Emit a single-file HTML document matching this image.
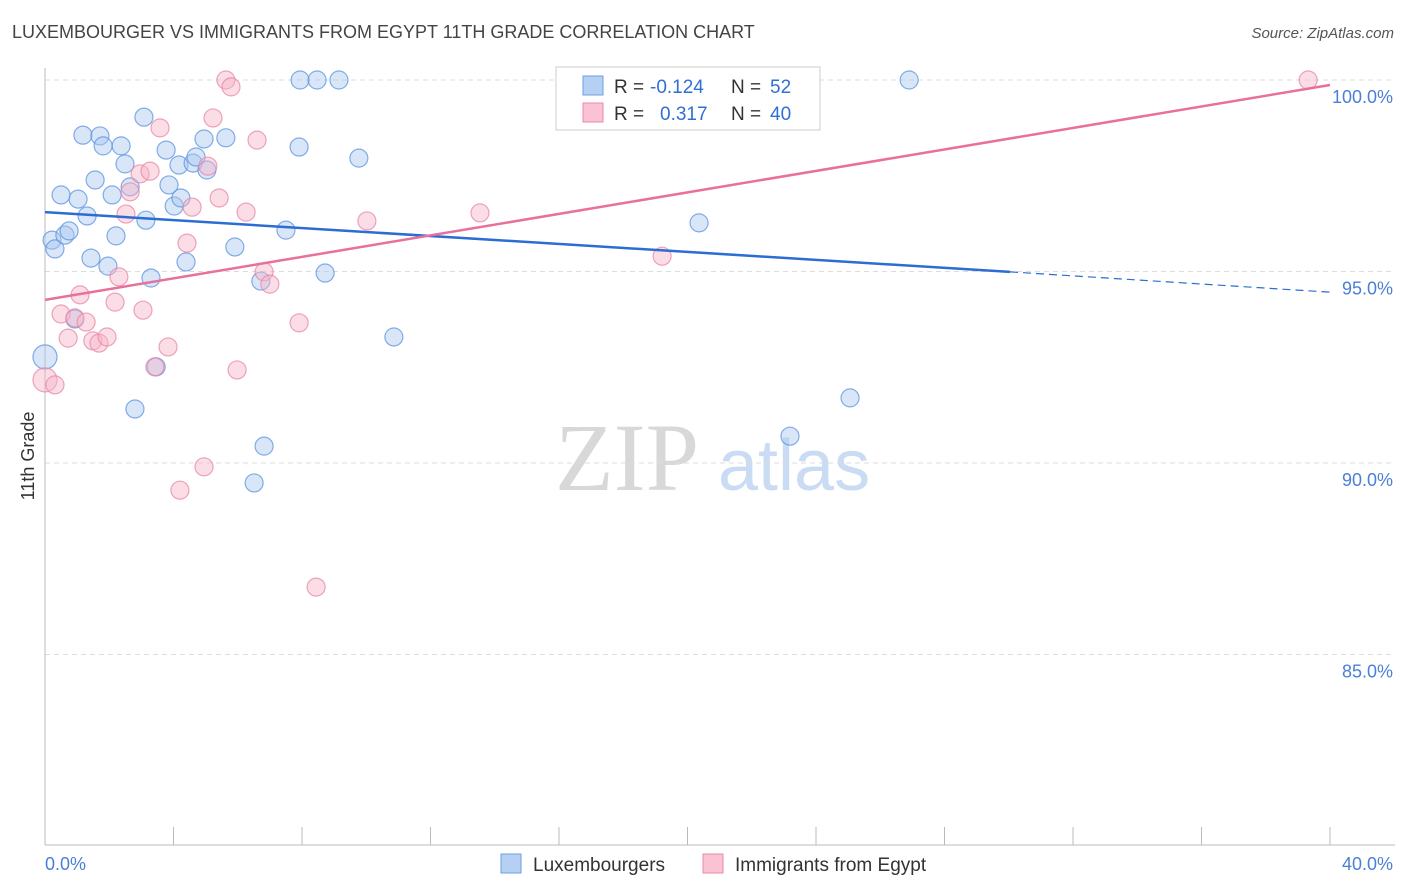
<!DOCTYPE html>
<html><head><meta charset="utf-8">
<style>
body{margin:0;background:#fff;font-family:"Liberation Sans",sans-serif;}
#wrap{position:relative;width:1406px;height:892px;overflow:hidden;}
.t{position:absolute;white-space:nowrap;}
</style></head>
<body>
<div id="wrap">
<div class="t" style="left:12px;top:22px;font-size:18px;color:#444;">LUXEMBOURGER VS IMMIGRANTS FROM EGYPT 11TH GRADE CORRELATION CHART</div>
<div class="t" style="right:12px;top:25px;font-size:15px;color:#555;font-style:italic;">Source: ZipAtlas.com</div>
<svg id="plot" width="1406" height="892" style="position:absolute;left:0;top:0"></svg>
</div>
<script>
const xTicks=[0,4,8,12,16,20,24,28,32,36,40];
const yTicks=[85,90,95,100];
const yTickLabels=["85.0%","90.0%","95.0%","100.0%"];
const luxX=[0.0,0.22,0.31,0.50,0.62,0.75,1.03,1.18,1.31,1.43,1.56,1.71,1.81,1.96,2.09,2.21,2.37,2.49,2.65,2.80,3.08,3.14,3.30,3.46,3.77,3.86,4.02,4.17,4.23,4.39,4.61,4.70,4.95,5.04,5.63,5.91,6.51,6.72,6.82,7.50,7.91,7.94,8.47,8.72,9.15,9.77,10.86,20.36,23.19,25.06,26.90,0.93];
const luxY=[92.77,95.82,95.59,97.00,95.95,96.06,96.89,98.56,96.45,95.35,97.39,98.54,98.28,95.14,97.00,95.93,98.28,97.81,97.21,91.41,99.03,96.34,94.83,92.51,98.17,97.26,96.71,97.78,96.92,95.25,97.83,97.99,98.46,97.65,98.49,95.64,89.48,94.75,90.44,96.08,98.25,100.0,100.0,94.96,100.0,97.96,93.29,96.27,90.70,91.70,100.0,93.76];
const egyX=[0,0.31,0.50,0.72,0.93,1.09,1.28,1.49,1.68,1.93,2.18,2.30,2.52,2.65,2.96,3.05,3.27,3.42,3.58,3.83,4.20,4.42,4.58,4.95,5.07,5.23,5.42,5.63,5.79,5.98,6.26,6.60,6.82,7.00,7.91,8.44,10.02,13.54,19.21,39.32];
const egyY=[92.17,92.04,93.89,93.26,93.79,94.39,93.68,93.19,93.13,93.29,94.20,94.86,96.50,97.08,97.55,93.99,97.62,92.51,98.75,93.03,89.29,95.74,96.68,89.90,97.75,99.01,96.92,100.0,99.82,92.43,96.55,98.43,94.99,94.67,93.66,86.76,96.32,96.53,95.40,100.0];
const luxTrend=[96.55,94.99,94.46];
const egyTrend=[94.26,99.87];

const X=v=>45+v/40*1285;
const Y=v=>80+(100-v)*38.3;
const svg=document.getElementById('plot');
const NS="http://www.w3.org/2000/svg";
function mk(tag,a,p){const e=document.createElementNS(NS,tag);for(const k in a)e.setAttribute(k,a[k]);(p||svg).appendChild(e);return e;}

let wm=mk('text',{x:555,y:490,'font-size':96,fill:'#d8d8d8','font-family':'Liberation Serif, serif'});wm.textContent='ZIP';


let wm2=mk('text',{x:718,y:490,'font-size':72,fill:'#c9dcf3','font-family':'Liberation Sans, sans-serif'});wm2.textContent='atlas';



yTicks.forEach((t,i)=>{
 const g=mk('line',{x1:45,x2:1395,y1:Y(t),y2:Y(t),stroke:'#dcdcdc','stroke-dasharray':'5,4'});
 
 
 const l=mk('text',{x:1393,y:Y(t)+23,'text-anchor':'end','font-size':18,fill:'#4a7fd6'});
 l.textContent=yTickLabels[i];
 
 
});
let ax=mk('line',{x1:45,x2:45,y1:68,y2:845,stroke:'#bbb'});


let bx=mk('line',{x1:45,x2:1395,y1:845,y2:845,stroke:'#bbb'});


xTicks.forEach(t=>{
 const k=mk('line',{x1:X(t),x2:X(t),y1:827,y2:845,stroke:'#bbb'});
 
 
});
let xl0=mk('text',{x:45,y:870,'font-size':18,fill:'#4a7fd6'});xl0.textContent='0.0%';


let xl1=mk('text',{x:1393,y:870,'text-anchor':'end','font-size':18,fill:'#4a7fd6'});xl1.textContent='40.0%';


let yt=mk('text',{x:34,y:456,'font-size':18,fill:'#333','text-anchor':'middle',transform:'rotate(-90 34 456)'});yt.textContent='11th Grade';



function dots(xs,ys,fill,stroke,name){
 xs.forEach((x,i)=>{
  const r=(i===0&&x===0)?12:9;
  const c=mk('circle',{cx:X(x),cy:Y(ys[i]),r:r,fill:fill,'fill-opacity':0.45,stroke:stroke,'stroke-width':1.2,'stroke-opacity':0.75});
  
  
 });
}
dots(luxX,luxY,'#a9c8f0','#5b93e0','luxembourger-point');
dots(egyX,egyY,'#f7b3c7','#e886a7','egypt-point');

let l1=mk('line',{x1:X(0),y1:Y(luxTrend[0]),x2:X(30.04),y2:Y(luxTrend[1]),stroke:'#2b6dd3','stroke-width':2.5});


let l2=mk('line',{x1:X(30.04),y1:Y(luxTrend[1]),x2:X(40),y2:Y(luxTrend[2]),stroke:'#2b6dd3','stroke-width':1.2,'stroke-dasharray':'8,5'});


let l3=mk('line',{x1:X(0),y1:Y(egyTrend[0]),x2:X(40),y2:Y(egyTrend[1]),stroke:'#e8709a','stroke-width':2.5});



const lg=mk('g',{});


mk('rect',{x:556,y:67,width:264,height:63,fill:'#fff',stroke:'#ccc'},lg);
mk('rect',{x:583,y:76,width:20,height:19,fill:'#b5d0f3',stroke:'#6a9fe0'},lg);
mk('rect',{x:583,y:103,width:20,height:19,fill:'#f9c3d3',stroke:'#e88aab'},lg);
[['R = ','-0.124',650,'N = ','52',93],['R = ','0.317',660,'N = ','40',120]].forEach(r=>{
 let a=mk('text',{x:614,y:r[5],'font-size':19,fill:'#333'},lg);a.textContent=r[0];
 let b=mk('text',{x:r[2],y:r[5],'font-size':19,fill:'#2f6fd6'},lg);b.textContent=r[1];
 let c=mk('text',{x:731,y:r[5],'font-size':19,fill:'#333'},lg);c.textContent=r[3];
 let d=mk('text',{x:770,y:r[5],'font-size':19,fill:'#2f6fd6'},lg);d.textContent=r[4];
});

const bl=mk('g',{});


mk('rect',{x:501,y:854,width:20,height:19,fill:'#b5d0f3',stroke:'#6a9fe0'},bl);
let t1=mk('text',{x:533,y:871,'font-size':19,fill:'#333'},bl);t1.textContent='Luxembourgers';
mk('rect',{x:703,y:854,width:20,height:19,fill:'#f9c3d3',stroke:'#e88aab'},bl);
let t2=mk('text',{x:735,y:871,'font-size':19,fill:'#333'},bl);t2.textContent='Immigrants from Egypt';
</script>
</body></html>
